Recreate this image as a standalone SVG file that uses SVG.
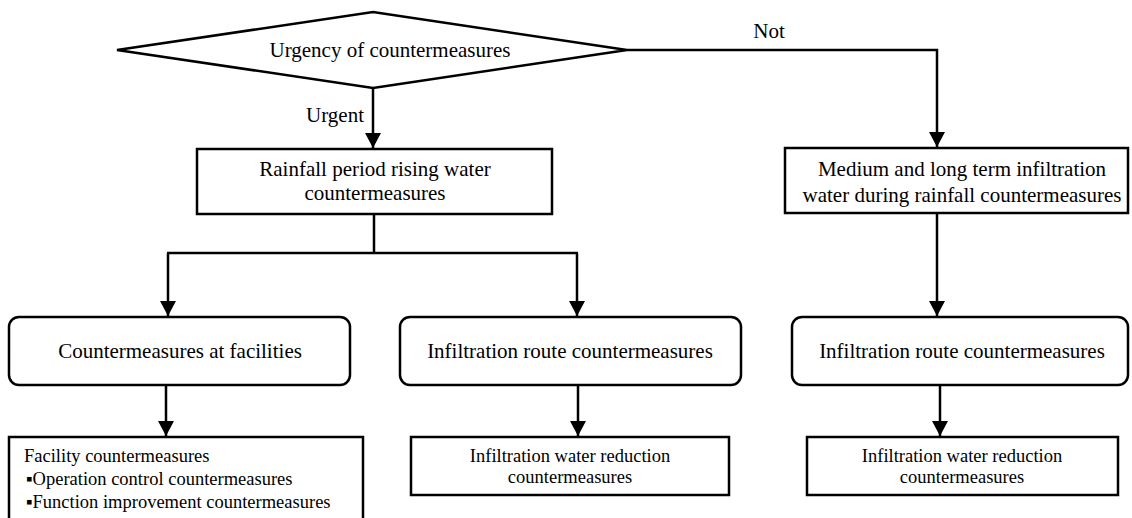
<svg xmlns="http://www.w3.org/2000/svg" width="1132" height="518" viewBox="0 0 1132 518">
<style>
.shape{fill:#fff;stroke:#000;stroke-width:2.5}
.ln{fill:none;stroke:#000;stroke-width:2.5}
.t{font-family:"Liberation Serif","Times New Roman",serif;font-size:21px;fill:#000;text-anchor:middle}
.s{font-family:"Liberation Serif","Times New Roman",serif;font-size:18.5px;fill:#000;text-anchor:middle}
.sl{font-family:"Liberation Serif","Times New Roman",serif;font-size:18.5px;fill:#000}
</style>
<defs>
<marker id="arr" markerUnits="userSpaceOnUse" markerWidth="16" markerHeight="16" refX="15" refY="8" orient="auto">
<path d="M0,0 L15,8 L0,16 z" fill="#000"/>
</marker>
</defs>
<rect width="1132" height="518" fill="#fff"/>
<g id="connectors">
<polyline class="ln" points="627,50 937,50 937,147" marker-end="url(#arr)"/>
<line class="ln" x1="373" y1="88" x2="373" y2="148" marker-end="url(#arr)"/>
<line class="ln" x1="374" y1="214" x2="374" y2="253"/>
<line class="ln" x1="167" y1="253" x2="578" y2="253"/>
<line class="ln" x1="168" y1="253" x2="168" y2="316" marker-end="url(#arr)"/>
<line class="ln" x1="577" y1="253" x2="577" y2="316" marker-end="url(#arr)"/>
<line class="ln" x1="937" y1="213" x2="937" y2="316" marker-end="url(#arr)"/>
<line class="ln" x1="166" y1="385" x2="166" y2="436" marker-end="url(#arr)"/>
<line class="ln" x1="578" y1="385" x2="578" y2="436" marker-end="url(#arr)"/>
<line class="ln" x1="940" y1="385" x2="940" y2="436" marker-end="url(#arr)"/>
<text class="t" x="769" y="38">Not</text>
<text class="t" x="335" y="122">Urgent</text>
</g>
<g id="decision">
<polygon class="shape" points="117,50 373,12 627,50 373,88"/>
<text class="t" x="390" y="57">Urgency of countermeasures</text>
</g>
<g id="rainfall">
<rect class="shape" x="197" y="149" width="355" height="65"/>
<text class="t" x="375" y="176">Rainfall period rising water</text>
<text class="t" x="375" y="200">countermeasures</text>
</g>
<g id="medium">
<rect class="shape" x="785" y="148" width="343" height="65"/>
<text class="t" x="962" y="176">Medium and long term infiltration</text>
<text class="t" x="962" y="202">water during rainfall countermeasures</text>
</g>
<g id="facilities">
<rect class="shape" x="9" y="317" width="341" height="68" rx="10"/>
<text class="t" x="180" y="358">Countermeasures at facilities</text>
</g>
<g id="route1">
<rect class="shape" x="400" y="317" width="341" height="68" rx="10"/>
<text class="t" x="570" y="358">Infiltration route countermeasures</text>
</g>
<g id="route2">
<rect class="shape" x="792" y="317" width="336" height="68" rx="10"/>
<text class="t" x="962" y="358">Infiltration route countermeasures</text>
</g>
<g id="facility-measures">
<rect class="shape" x="9" y="437" width="354" height="84"/>
<text class="sl" x="24" y="462">Facility countermeasures</text>
<text class="sl" x="26" y="485">▪Operation control countermeasures</text>
<text class="sl" x="26" y="508">▪Function improvement countermeasures</text>
</g>
<g id="reduction1">
<rect class="shape" x="411" y="437" width="318" height="58"/>
<text class="s" x="570" y="462">Infiltration water reduction</text>
<text class="s" x="570" y="483">countermeasures</text>
</g>
<g id="reduction2">
<rect class="shape" x="807" y="437" width="311" height="58"/>
<text class="s" x="962" y="462">Infiltration water reduction</text>
<text class="s" x="962" y="483">countermeasures</text>
</g>
</svg>
